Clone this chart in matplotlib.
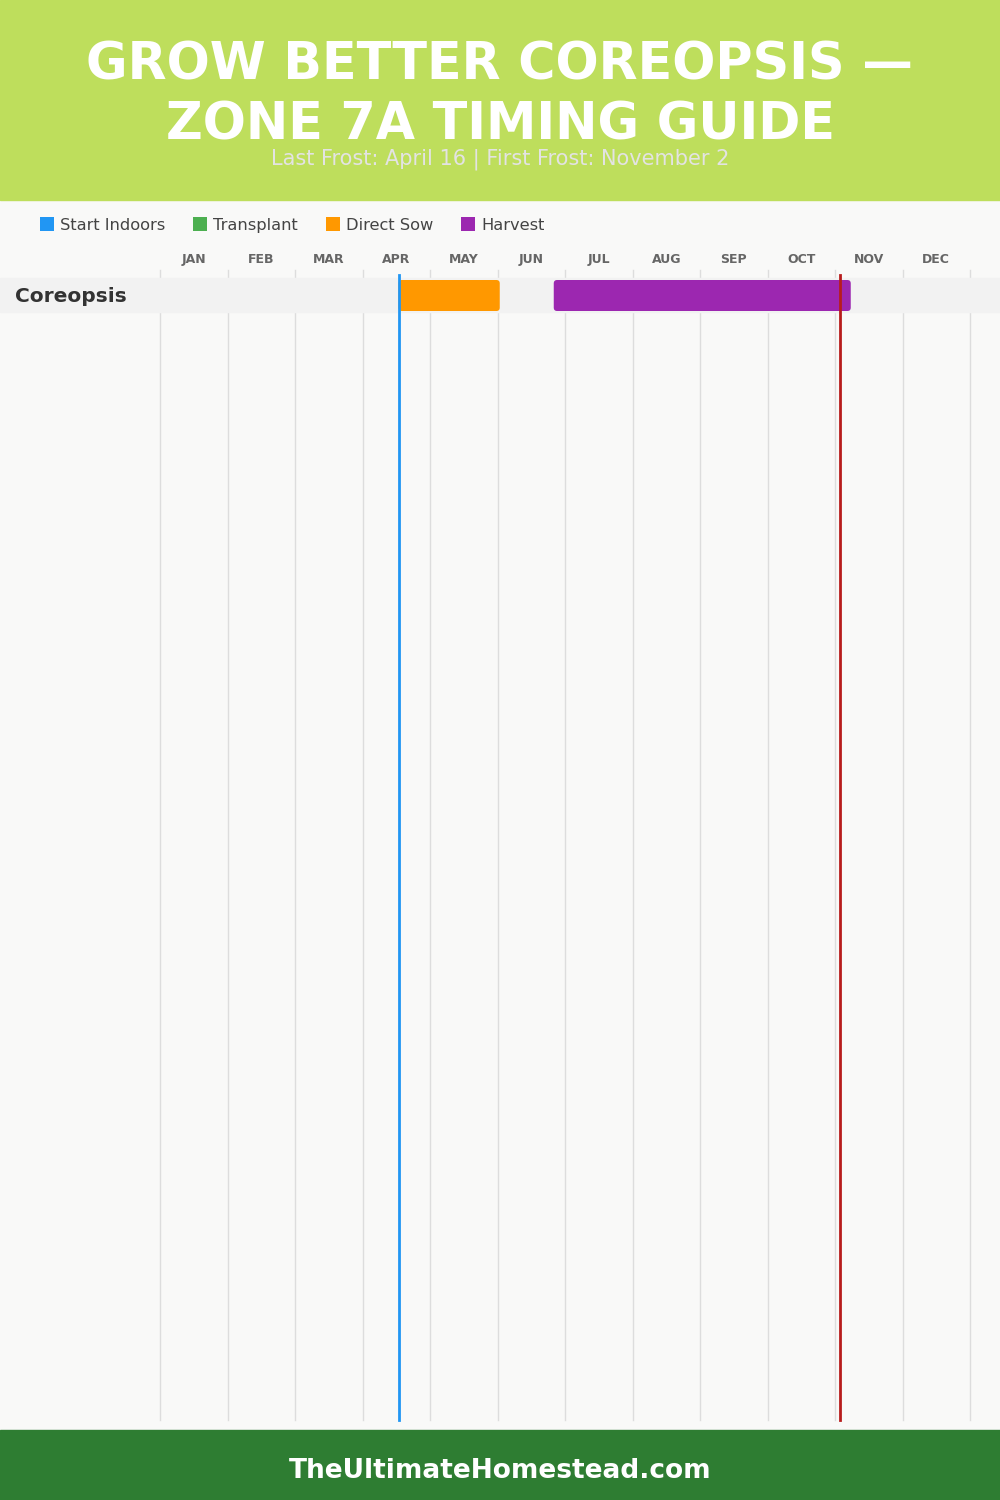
import matplotlib.pyplot as plt
from matplotlib.patches import Patch, FancyBboxPatch, Rectangle

# data: month positions as month_index + day/30 (Jan 1 = 0)
months = ['JAN', 'FEB', 'MAR', 'APR', 'MAY', 'JUN', 'JUL', 'AUG', 'SEP', 'OCT', 'NOV', 'DEC']
crops = ['Coreopsis']
stages = ['Start Indoors', 'Transplant', 'Direct Sow', 'Harvest']
stage_colors = ['#2196F3', '#4CAF50', '#FF9800', '#9C27B0']
# (crop, start, end)
direct_sow = [('Coreopsis', 3 + 16 / 30, 5 + 1 / 30)]
harvest = [('Coreopsis', 5 + 25 / 30, 10 + 7 / 30)]
last_frost = 3 + 16 / 30     # April 16
first_frost = 10 + 2 / 30    # November 2

W, H = 1000, 1500
fig = plt.figure(figsize=(W / 100, H / 100), dpi=100)
fig.patch.set_facecolor('#F9F9F8')

# header + footer bands
fig.patches.append(Rectangle((0, 1 - 200 / H), 1, 200 / H, transform=fig.transFigure,
                             color='#BEDE5C', zorder=0))
fig.patches.append(Rectangle((0, 0), 1, 70 / H, transform=fig.transFigure,
                             color='#2E7D32', zorder=0))

fig.text(0.5, 1 - 65 / H, 'GROW BETTER COREOPSIS —', ha='center', va='center',
         color='white', fontsize=36.5, fontweight='bold')
fig.text(0.5, 1 - 126 / H, 'ZONE 7A TIMING GUIDE', ha='center', va='center',
         color='white', fontsize=36.5, fontweight='bold')
fig.text(0.5, 1 - 159 / H, 'Last Frost: April 16 | First Frost: November 2', ha='center',
         va='center', color='#E3E3E3', fontsize=15)
fig.text(0.5, 29 / H, 'TheUltimateHomestead.com', ha='center', va='center',
         color='white', fontsize=19, fontweight='bold')

# main axes: full width, y measured in pixels from top (200..1430)
unit = 810 / 12
ax = fig.add_axes([0, 70 / H, 1, 1230 / H])
ax.set_xlim(-160 / unit, (1000 - 160) / unit)
ax.set_ylim(1430, 200)
ax.axis('off')

# grid lines
for i in range(13):
    ax.plot([i, i], [270, 1420], color='#DDDDDD', lw=1, zorder=1)

# month labels
for i, m in enumerate(months):
    ax.text(i + 0.5, 259, m, ha='center', va='center', fontsize=9,
            fontweight='bold', color='#666666')

# rows
row_top = 278
row_h = 35
for r, crop in enumerate(crops):
    y0 = row_top + r * row_h
    ax.add_patch(Rectangle((ax.get_xlim()[0], y0), ax.get_xlim()[1] - ax.get_xlim()[0], 34,
                           color='#F2F2F2', zorder=2))
    ax.text(-160 / unit + 15 / unit, y0 + 18, crop, ha='left', va='center',
            fontsize=14.5, fontweight='bold', color='#333333', zorder=5)

def draw_bars(items, color):
    for crop, start, end in items:
        y0 = row_top + crops.index(crop) * row_h + 2
        ax.add_patch(FancyBboxPatch((start, y0), end - start, 31,
                                    boxstyle='round,pad=0,rounding_size=0.05',
                                    mutation_aspect=unit, color=color, lw=0, zorder=3))

draw_bars(direct_sow, stage_colors[2])
draw_bars(harvest, stage_colors[3])

ax.plot([last_frost] * 2, [275, 1420], color='#2196F3', lw=2, zorder=4)
ax.plot([first_frost] * 2, [275, 1420], color='#B71C1C', lw=2, zorder=4)

handles = [Patch(facecolor=c, edgecolor='none', label=s) for s, c in zip(stages, stage_colors)]
fig.legend(handles=handles, loc='center left', bbox_to_anchor=(25 / W, 1 - 225 / H), ncol=4,
           frameon=False, fontsize=11.7, handlelength=0.9, handleheight=0.9,
           handletextpad=0.35, columnspacing=1.7, labelcolor='#444444')

plt.savefig('out.png', dpi=100, facecolor=fig.get_facecolor())
